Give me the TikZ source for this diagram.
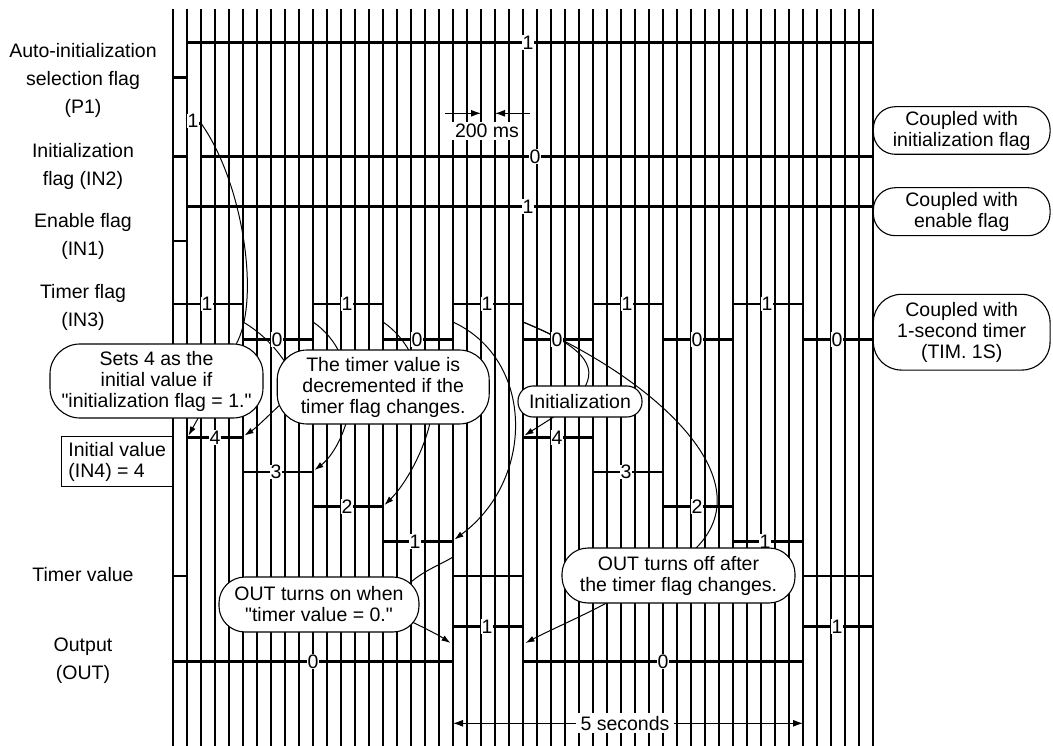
\documentclass[tikz,border=0pt]{standalone}
\usepackage{fontspec}
\setmainfont{Liberation Sans}[Ligatures=TeXOff]
\usetikzlibrary{arrows.meta}
\newcommand\fsz{\fontsize{19.5}{21}\selectfont}
\newcommand\fszl{\fontsize{19.5}{28}\selectfont}
\pgfdeclarelayer{gridlayer}
\pgfdeclarelayer{wavelayer}
\pgfdeclarelayer{connlayer}
\pgfsetlayers{gridlayer,wavelayer,connlayer,main}
\begin{document}
\begin{tikzpicture}[x=1pt,y=-1pt,
  gridline/.style={line width=1.1pt},
  wave/.style={line width=2.8pt},
  conn/.style={line width=1pt},
  arr/.style={conn,-{Latex[length=9pt,width=6pt]}},
  dimarr/.style={line width=1pt,-{Latex[length=10pt,width=7pt]}},
  callout/.style={draw,line width=1.1pt,fill=white,align=center,inner sep=0pt,font=\fsz},
  lvl/.style={fill=white,inner xsep=1pt,inner ysep=0.5pt,font=\fsz},
  sig/.style={align=center,font=\fszl}]
\useasboundingbox (0,0) rectangle (1053,746);

% ---------- grid ----------
\begin{pgfonlayer}{gridlayer}
  \fill[white] (0,0) rectangle (1053,746);
  \foreach \k in {0,...,50} \draw[gridline] ({173+14*\k},9) -- ({173+14*\k},746);
\end{pgfonlayer}

% ---------- waveforms ----------
\begin{pgfonlayer}{wavelayer}
  \draw[wave] (173,77.7) -- (187,77.7) -- (187,42.7) -- (873,42.7);
  \draw[wave] (173,156.7) -- (187,156.7) -- (187,123.3) -- (201,123.3) -- (201,156.7) -- (873,156.7);
  \draw[wave] (173,241) -- (187,241) -- (187,206.7) -- (873,206.7);
  \draw[wave] (173,304) -- (243,304) -- (243,339.3) -- (313,339.3) -- (313,304) -- (383,304) -- (383,339.3)
     -- (453,339.3) -- (453,304) -- (523,304) -- (523,339.3) -- (593,339.3) -- (593,304) -- (663,304)
     -- (663,339.3) -- (733,339.3) -- (733,304) -- (803,304) -- (803,339.3) -- (873,339.3);
  \draw[wave] (173,576) -- (187,576) -- (187,437.3) -- (243,437.3) -- (243,472) -- (313,472) -- (313,506.7)
     -- (383,506.7) -- (383,541.3) -- (453,541.3) -- (453,576) -- (523,576) -- (523,437.3) -- (593,437.3)
     -- (593,472) -- (663,472) -- (663,506.7) -- (733,506.7) -- (733,541.3) -- (803,541.3) -- (803,576) -- (873,576);
  \draw[wave] (173,661.7) -- (453,661.7) -- (453,626.7) -- (523,626.7) -- (523,661.7) -- (803,661.7)
     -- (803,626.7) -- (873,626.7);
\end{pgfonlayer}

% ---------- signal names ----------
\node[sig] (np1) at (83,80) {Auto-initialization\\selection flag\\(P1)};
\node[sig] (nin2) at (83,166) {Initialization\\flag (IN2)};
\node[sig] (nin1) at (83,236) {Enable flag\\(IN1)};
\node[sig] (nin3) at (83,307) {Timer flag\\(IN3)};
\node[sig] (ntv) at (83,575) {Timer value};
\node[sig] (nout) at (83,661) {Output\\(OUT)};
\node[draw,line width=1.1pt,fill=white,align=left,font=\fsz,minimum width=111pt,minimum height=50pt,inner sep=4pt]
  (iv) at (117.2,461.7) {Initial value\\(IN4) = 4};

% ---------- level labels ----------
\node[lvl] (la1) at (528,42.7) {1};
\node[lvl] (lb1) at (193,121) {1};
\node[lvl] (lb0) at (535,156.7) {0};
\node[lvl] (lc1) at (528,206.7) {1};
\foreach \m in {0,2,4,6,8} \node[lvl] (ld\m) at ({207+70*\m},304) {1};
\foreach \m in {1,3,5,7,9} \node[lvl] (ld\m) at ({207+70*\m},339.3) {0};
\node[lvl] (le4a) at (215,437.3) {4};
\node[lvl] (le3a) at (276,472) {3};
\node[lvl] (le2a) at (347,506.7) {2};
\node[lvl] (le1a) at (415,541.3) {1};
\node[lvl] (le4b) at (557,437.3) {4};
\node[lvl] (le3b) at (626,472) {3};
\node[lvl] (le2b) at (697,506.7) {2};
\node[lvl] (le1b) at (765,541.3) {1};
\node[lvl] (lf0a) at (313,661.7) {0};
\node[lvl] (lf1a) at (487,626.7) {1};
\node[lvl] (lf0b) at (663,661.7) {0};
\node[lvl] (lf1b) at (837,626.7) {1};

% ---------- dimension labels ----------
\node[fill=white,font=\fsz,inner xsep=3pt,inner ysep=2pt] (ms) at (487,131) {200 ms};
\node[fill=white,font=\fsz,inner xsep=4pt,inner ysep=3pt] (sec) at (625,723.3) {5 seconds};

% ---------- callouts ----------
\node[callout,minimum width=213pt,minimum height=74pt,rounded corners=30pt] (s4) at (156.5,381)
  {Sets 4 as the\\initial value if\\"initialization flag = 1."};
\node[callout,minimum width=212pt,minimum height=74pt,rounded corners=30pt] (dec) at (383.2,387)
  {The timer value is\\decremented if the\\timer flag changes.};
\node[callout,minimum width=124pt,minimum height=31pt,rounded corners=15pt] (ini) at (580,401.5)
  {Initialization};
\node[callout,minimum width=200pt,minimum height=55pt,rounded corners=26pt] (on) at (319,604.5)
  {OUT turns on when\\"timer value = 0."};
\node[callout,minimum width=233pt,minimum height=55pt,rounded corners=26pt] (off) at (678.5,575.5)
  {OUT turns off after\\the timer flag changes.};
\node[callout,minimum width=176.7pt,minimum height=47.6pt,rounded corners=22pt] (cinit) at (961.7,130.5)
  {Coupled with\\initialization flag};
\node[callout,minimum width=176.7pt,minimum height=48pt,rounded corners=22pt] (cen) at (961.7,211.7)
  {Coupled with\\enable flag};
\node[callout,minimum width=176.7pt,minimum height=75.7pt,rounded corners=28pt] (ctim) at (961.7,332.2)
  {Coupled with\\1-second timer\\(TIM. 1S)};

% ---------- connector end points ----------
\coordinate (p2) at (201,123.3);
\coordinate (s4a) at (233,349);
\coordinate (s4b) at (201,413);
\coordinate (tv1) at (188.5,435.5);
\coordinate (e5) at (243,322);
\coordinate (deca) at (287,365);
\coordinate (decb) at (283,402);
\coordinate (tv5) at (244.5,435.5);
\coordinate (e10) at (313,322);
\coordinate (decc) at (341,356);
\coordinate (decd) at (347,420);
\coordinate (tv10) at (314.5,470);
\coordinate (e15) at (383,322);
\coordinate (dece) at (412,356);
\coordinate (decf) at (431,418);
\coordinate (tv15) at (384.5,505);
\coordinate (e20) at (453,322);
\coordinate (tv20) at (454.5,539.5);
\coordinate (tv20b) at (453,557);
\coordinate (ona) at (407,586);
\coordinate (onb) at (412,622);
\coordinate (out20) at (450.5,643);
\coordinate (e25) at (523,322);
\coordinate (inia) at (583,390);
\coordinate (offa) at (693,551);
\coordinate (inib) at (560,413);
\coordinate (tv25) at (524.5,435.5);
\coordinate (offb) at (612,600);
\coordinate (out25) at (525.5,643);
\coordinate (ms1) at (445,113.3);
\coordinate (ms1t) at (481,113.3);
\coordinate (ms2) at (530,113.3);
\coordinate (ms2t) at (495,113.3);
\coordinate (secL) at (453,723.3);
\coordinate (secR) at (803,723.3);

% ---------- connectors ----------
\begin{pgfonlayer}{connlayer}
  \draw[conn] (p2) .. controls (245,185) and (262,310) .. (s4a);
  \draw[arr] (s4b) -- (tv1);
  \draw[conn] (e5) .. controls (262,333) and (276,348) .. (deca);
  \draw[arr] (decb) .. controls (268,416) and (256,428) .. (tv5);
  \draw[conn] (e10) .. controls (325,330) and (335,342) .. (decc);
  \draw[arr] (decd) .. controls (340,445) and (328,460) .. (tv10);
  \draw[conn] (e15) .. controls (395,330) and (405,342) .. (dece);
  \draw[arr] (decf) .. controls (425,450) and (405,485) .. (tv15);
  \draw[arr] (e20) .. controls (535,360) and (535,480) .. (tv20);
  \draw[conn] (tv20b) .. controls (440,565) and (420,572) .. (ona);
  \draw[arr] (onb) .. controls (425,628) and (440,636) .. (out20);
  \draw[conn] (e25) .. controls (580,345) and (600,365) .. (inia);
  \draw[conn] (e25) .. controls (650,375) and (770,480) .. (offa);
  \draw[arr] (inib) -- (tv25);
  \draw[arr] (offb) .. controls (585,615) and (550,630) .. (out25);
  \draw[dimarr] (ms1) -- (ms1t);
  \draw[dimarr] (ms2) -- (ms2t);
  \draw[dimarr] (sec) -- (secL);
  \draw[dimarr] (sec) -- (secR);
\end{pgfonlayer}
\end{tikzpicture}
\end{document}
